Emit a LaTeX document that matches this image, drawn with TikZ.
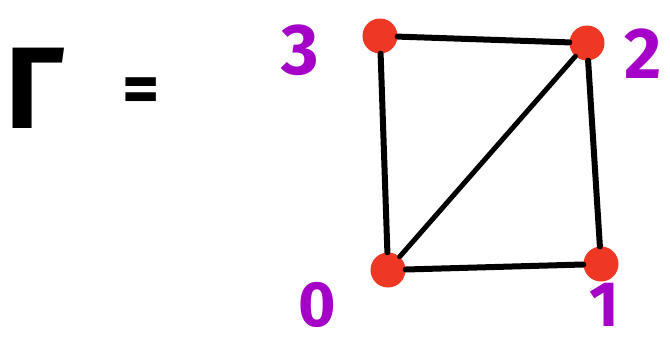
\documentclass[tikz,border=0pt]{standalone}
\usepackage{fontspec}
\setmainfont{Fira Sans}
\usepackage{tikz}
\usetikzlibrary{positioning}
\usepackage{xcolor}
\definecolor{vertexred}{RGB}{238,56,36}
\definecolor{labelpurple}{RGB}{165,0,200}
\tikzset{
  vert/.style={circle,fill=vertexred,draw=none,minimum size=35pt,inner sep=0pt},
  vlabel/.style={text=labelpurple,font=\fontsize{72}{72}\selectfont\bfseries,
                 inner sep=0pt,anchor=base},
  lowlabel/.style={vlabel,font=\fontsize{64}{64}\selectfont\bfseries},
  edge/.style={draw=black,line width=6pt,line cap=round},
}

\begin{document}
\begin{tikzpicture}[x=1pt,y=-1pt]
  \useasboundingbox (0,0) rectangle (670,343);
  \node[font=\fontsize{116}{116}\selectfont\bfseries,inner sep=0pt,anchor=base]
    (gam) at (35,128) {Γ};
  \node[font=\fontsize{72}{72}\selectfont\bfseries,inner sep=0pt] (eq) at (141,96) {=};
  \node[vert] (v0) at (388,270) {};
  \node[vert] (v1) at (601,264) {};
  \node[vert] (v2) at (587,43) {};
  \node[vert] (v3) at (380,36) {};
  \node[lowlabel] (l0) at (317,326) {0};
  \node[lowlabel] (l1) at (604,326) {1};
  \node[vlabel] (l2) at (643,78) {2};
  \node[vlabel] (l3) at (300,74) {3};
  \draw[edge] (v0) -- (v1);
  \draw[edge] (v1) -- (v2);
  \draw[edge] (v2) -- (v3);
  \draw[edge] (v3) -- (v0);
  \draw[edge,line width=5pt] (v0) -- (v2);
\end{tikzpicture}
\end{document}
